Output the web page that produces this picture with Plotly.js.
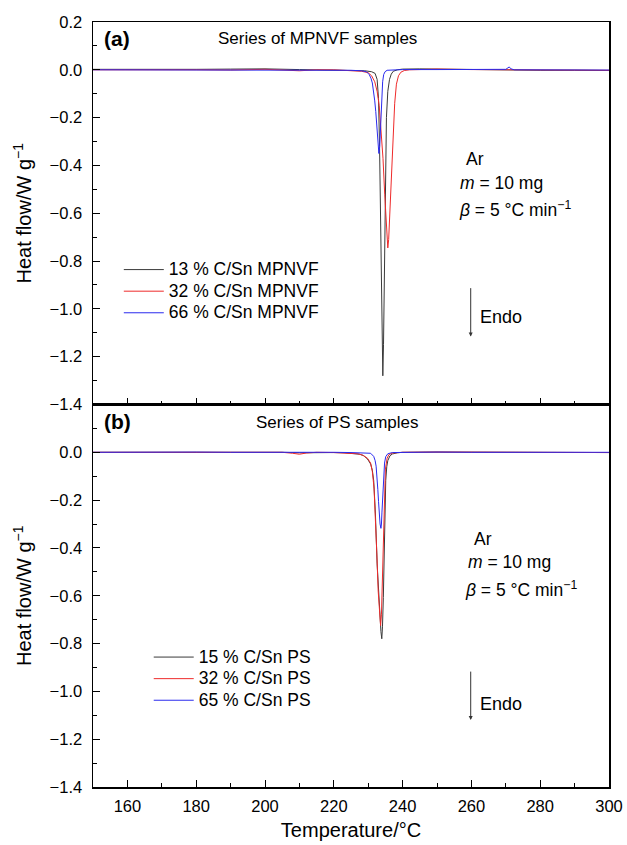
<!DOCTYPE html>
<html>
<head>
<meta charset="utf-8">
<script src="https://cdn.plot.ly/plotly-3.0.1.min.js"></script>
<style>
html,body{margin:0;padding:0;background:#fff;}
#chart{width:627px;height:845px;}
</style>
</head>
<body>
<div id="chart"></div>
<script>
// ---------- Panel (a): series of MPNVF samples ----------
var tA13 = [150,160,170,180,190,200,210,220,226,229,231,232,232.6,233.0,233.3,233.55,233.8,234.05,234.25,234.45,234.65,234.8,235.0,235.3,235.7,236.2,236.7,237.3,238.5,240,245,250,255,260,270,280,290,300];
var hA13 = [0.002,0.001,0.000,0.002,0.003,0.004,0.001,0.000,-0.002,-0.004,-0.008,-0.015,-0.04,-0.12,-0.32,-0.64,-0.95,-1.18,-1.28,-1.15,-0.85,-0.64,-0.40,-0.20,-0.09,-0.04,-0.018,-0.006,0.000,0.003,0.004,0.003,0.002,0.000,-0.001,-0.002,-0.002,-0.003];

var tA32 = [150,160,170,180,190,200,210,215,220,225,228,230,231,231.9,232.6,233.2,233.8,234.3,234.8,235.2,235.5,235.7,235.95,236.3,236.6,236.9,237.3,237.7,238.2,238.8,239.5,240.5,242,245,250,260,270,280,290,300];
var hA32 = [0.000,0.001,0.001,0.000,-0.001,0.002,-0.004,0.000,0.000,-0.002,-0.006,-0.012,-0.025,-0.05,-0.09,-0.15,-0.25,-0.37,-0.52,-0.65,-0.72,-0.745,-0.71,-0.60,-0.48,-0.37,-0.24,-0.14,-0.06,-0.025,-0.01,-0.003,0.000,0.002,0.003,0.001,0.000,-0.001,-0.001,-0.002];

var tA66 = [150,160,170,180,190,200,210,220,225,228,229.5,230.3,230.8,231.2,231.6,231.9,232.2,232.5,232.8,233.1,233.35,233.55,233.75,233.95,234.2,234.5,234.9,235.5,237,240,250,265,270,271,271.5,272.5,280,290,300];
var hA66 = [0.000,0.000,-0.001,0.001,0.000,0.001,0.000,-0.001,-0.002,-0.004,-0.008,-0.02,-0.035,-0.055,-0.09,-0.13,-0.175,-0.24,-0.31,-0.35,-0.32,-0.26,-0.175,-0.11,-0.05,-0.02,-0.008,-0.002,0.000,0.001,0.001,0.000,0.002,0.012,0.004,0.000,0.000,-0.001,-0.001];

// ---------- Panel (b): series of PS samples ----------
var tB15 = [150,160,170,180,190,200,205,210,215,220,223,225.8,227.5,228.7,229.8,230.7,231.2,231.6,232.1,232.6,233.0,233.4,233.7,233.95,234.15,234.4,234.75,235.1,235.4,235.7,236.3,237,238.5,240,250,260,270,280,290,300];
var hB15 = [0.000,0.001,0.001,0.000,0.000,0.001,0.000,-0.002,0.000,-0.001,-0.002,-0.004,-0.008,-0.014,-0.028,-0.049,-0.075,-0.118,-0.258,-0.467,-0.59,-0.69,-0.75,-0.78,-0.73,-0.607,-0.33,-0.118,-0.06,-0.035,-0.015,-0.007,-0.002,0.000,0.001,0.000,0.000,-0.001,-0.001,-0.001];

var tB32 = [150,160,170,180,190,200,205,208,210,212,215,220,225,227,228.4,229.8,230.7,231.2,231.7,232.1,232.5,232.9,233.3,233.6,233.85,234.1,234.5,234.75,235.0,235.5,236,237,240,250,260,270,280,290,300];
var hB32 = [0.000,0.000,0.001,0.000,0.000,0.001,0.000,-0.004,-0.008,-0.003,0.000,-0.001,-0.003,-0.006,-0.012,-0.025,-0.045,-0.08,-0.15,-0.26,-0.42,-0.58,-0.68,-0.725,-0.68,-0.53,-0.25,-0.14,-0.07,-0.025,-0.01,-0.003,0.000,0.001,0.000,0.000,0.000,-0.001,-0.001];

var tB65 = [150,160,170,180,190,200,210,220,225,229,230.7,231.6,232.0,232.3,232.6,232.8,233.0,233.2,233.45,233.7,233.85,234.0,234.15,234.3,234.5,234.75,235.1,235.7,237,240,250,260,270,280,290,300];
var hB65 = [0.000,0.001,0.000,0.001,0.000,0.001,0.000,0.000,-0.001,-0.002,-0.004,-0.017,-0.034,-0.058,-0.10,-0.156,-0.205,-0.254,-0.30,-0.318,-0.30,-0.25,-0.20,-0.156,-0.09,-0.045,-0.018,-0.006,-0.001,0.000,0.001,0.000,0.000,0.000,0.000,0.000];

// ---------- labels ----------
var namesA = ['13 % C/Sn MPNVF','32 % C/Sn MPNVF','66 % C/Sn MPNVF'];
var namesB = ['15 % C/Sn PS','32 % C/Sn PS','65 % C/Sn PS'];
var colors = ['#3a3a3a','#ee2a2a','#2a2aee'];
var yTickValsA = [0.2,0.0,-0.2,-0.4,-0.6,-0.8,-1.0,-1.2,-1.4];
var yTickTextA = ['0.2','0.0','\u22120.2','\u22120.4','\u22120.6','\u22120.8','\u22121.0','\u22121.2','\u22121.4'];
var yTickValsB = [0.0,-0.2,-0.4,-0.6,-0.8,-1.0,-1.2,-1.4];
var yTickTextB = ['0.0','\u22120.2','\u22120.4','\u22120.6','\u22120.8','\u22121.0','\u22121.2','\u22121.4'];
var xTickVals = [160,180,200,220,240,260,280,300];

var FONT = 'Liberation Sans, Arial, Helvetica, sans-serif';

function legName(s) { return '<span style="font-size:17.5px">' + s + '</span>'; }

function tr(x, y, name, color, xa, ya, leg) {
  return {x: x, y: y, name: legName(name), type: 'scatter', mode: 'lines',
          line: {color: color, width: 1}, xaxis: xa, yaxis: ya, legend: leg};
}

var data = [
  tr(tA13, hA13, namesA[0], colors[0], 'x2', 'y2', 'legend'),
  tr(tA32, hA32, namesA[1], colors[1], 'x2', 'y2', 'legend'),
  tr(tA66, hA66, namesA[2], colors[2], 'x2', 'y2', 'legend'),
  tr(tB15, hB15, namesB[0], colors[0], 'x', 'y', 'legend2'),
  tr(tB32, hB32, namesB[1], colors[1], 'x', 'y', 'legend2'),
  tr(tB65, hB65, namesB[2], colors[2], 'x', 'y', 'legend2')
];

var xCommon = {
  range: [150, 300], tickmode: 'array', tickvals: xTickVals,
  ticks: 'inside', ticklen: 7, tickwidth: 1, tickcolor: '#000',
  minor: {tickmode: 'linear', tick0: 150, dtick: 10, ticks: 'inside', ticklen: 4, tickcolor: '#000'},
  showline: true, linecolor: '#000', linewidth: 1.5, mirror: true,
  showgrid: false, zeroline: false,
  tickfont: {family: FONT, size: 16.5, color: '#000'}
};
var yCommon = {
  range: [-1.4, 0.2], tickmode: 'array',
  ticks: 'inside', ticklen: 7, tickwidth: 1, tickcolor: '#000',
  minor: {tickmode: 'linear', tick0: 0, dtick: 0.1, ticks: 'inside', ticklen: 4, tickcolor: '#000'},
  showline: true, linecolor: '#000', linewidth: 1.5, mirror: true,
  showgrid: false, zeroline: false, ticklabelstandoff: 6,
  tickfont: {family: FONT, size: 16.5, color: '#000'}
};

function merge(a, b) { var o = JSON.parse(JSON.stringify(a)); for (var k in b) o[k] = b[k]; return o; }

var layout = {
  width: 627, height: 845,
  margin: {l: 93, r: 18, t: 22, b: 58},
  paper_bgcolor: '#fff', plot_bgcolor: '#fff',
  font: {family: FONT, color: '#000'},
  showlegend: true,
  xaxis: merge(xCommon, {anchor: 'y', domain: [0, 1], ticklabelstandoff: 4,
    title: {text: 'Temperature/\u00B0C', font: {family: FONT, size: 20, color: '#000'}, standoff: 8}}),
  xaxis2: merge(xCommon, {anchor: 'y2', domain: [0, 1], matches: 'x', showticklabels: false}),
  yaxis: merge(yCommon, {anchor: 'x', domain: [0, 0.5], tickvals: yTickValsB, ticktext: yTickTextB,
    title: {text: 'Heat flow/W g<sup>\u22121</sup>', font: {family: FONT, size: 20, color: '#000'}, standoff: 12}}),
  yaxis2: merge(yCommon, {anchor: 'x2', domain: [0.5, 1], tickvals: yTickValsA, ticktext: yTickTextA,
    title: {text: 'Heat flow/W g<sup>\u22121</sup>', font: {family: FONT, size: 20, color: '#000'}, standoff: 12}}),
  legend: {x: 0.05, y: 0.697, xanchor: 'left', yanchor: 'top', bgcolor: 'rgba(0,0,0,0)',
           font: {family: FONT, size: 14.3, color: '#000'}, itemwidth: 40, tracegroupgap: 0},
  legend2: {x: 0.108, y: 0.1905, xanchor: 'left', yanchor: 'top', bgcolor: 'rgba(0,0,0,0)',
           font: {family: FONT, size: 14.3, color: '#000'}, itemwidth: 40, tracegroupgap: 0},
  annotations: [
    {xref: 'x2', yref: 'y2', x: 152.5, y: 0.133, text: '<b>(a)</b>', showarrow: false, xanchor: 'left', yanchor: 'middle', font: {family: FONT, size: 21}},
    {xref: 'x2', yref: 'y2', x: 215.4, y: 0.129, text: 'Series of MPNVF samples', showarrow: false, xanchor: 'center', yanchor: 'middle', font: {family: FONT, size: 17}},
    {xref: 'x2', yref: 'y2', x: 257.85, y: -0.371, text: 'Ar', showarrow: false, xanchor: 'left', yanchor: 'middle', font: {family: FONT, size: 17.5}},
    {xref: 'x2', yref: 'y2', x: 256.1, y: -0.473, text: '<i>m</i> = 10 mg', showarrow: false, xanchor: 'left', yanchor: 'middle', font: {family: FONT, size: 17.5}},
    {xref: 'x2', yref: 'y2', x: 255.7, y: -0.582, text: '<i>\u03B2</i> = 5 \u00B0C min<sup>\u22121</sup>', showarrow: false, xanchor: 'left', yanchor: 'middle', font: {family: FONT, size: 17.5}},
    {xref: 'x2', yref: 'y2', x: 261.9, y: -1.034, text: 'Endo', showarrow: false, xanchor: 'left', yanchor: 'middle', font: {family: FONT, size: 18}},
    {xref: 'x2', yref: 'y2', x: 259.8, y: -1.116, axref: 'x2', ayref: 'y2', ax: 259.8, ay: -0.907, text: '', showarrow: true, arrowhead: 2, arrowsize: 0.8, arrowwidth: 1, arrowcolor: '#333'},

    {xref: 'x', yref: 'y', x: 152.5, y: 0.127, text: '<b>(b)</b>', showarrow: false, xanchor: 'left', yanchor: 'middle', font: {family: FONT, size: 21}},
    {xref: 'x', yref: 'y', x: 221.2, y: 0.123, text: 'Series of PS samples', showarrow: false, xanchor: 'center', yanchor: 'middle', font: {family: FONT, size: 17}},
    {xref: 'x', yref: 'y', x: 260.1, y: -0.363, text: 'Ar', showarrow: false, xanchor: 'left', yanchor: 'middle', font: {family: FONT, size: 17.5}},
    {xref: 'x', yref: 'y', x: 258.4, y: -0.459, text: '<i>m</i> = 10 mg', showarrow: false, xanchor: 'left', yanchor: 'middle', font: {family: FONT, size: 17.5}},
    {xref: 'x', yref: 'y', x: 257.5, y: -0.572, text: '<i>\u03B2</i> = 5 \u00B0C min<sup>\u22121</sup>', showarrow: false, xanchor: 'left', yanchor: 'middle', font: {family: FONT, size: 17.5}},
    {xref: 'x', yref: 'y', x: 261.9, y: -1.053, text: 'Endo', showarrow: false, xanchor: 'left', yanchor: 'middle', font: {family: FONT, size: 18}},
    {xref: 'x', yref: 'y', x: 259.8, y: -1.12, axref: 'x', ayref: 'y', ax: 259.8, ay: -0.911, text: '', showarrow: true, arrowhead: 2, arrowsize: 0.8, arrowwidth: 1, arrowcolor: '#333'}
  ]
};

Plotly.newPlot('chart', data, layout, {staticPlot: true, displayModeBar: false});
</script>
</body>
</html>
